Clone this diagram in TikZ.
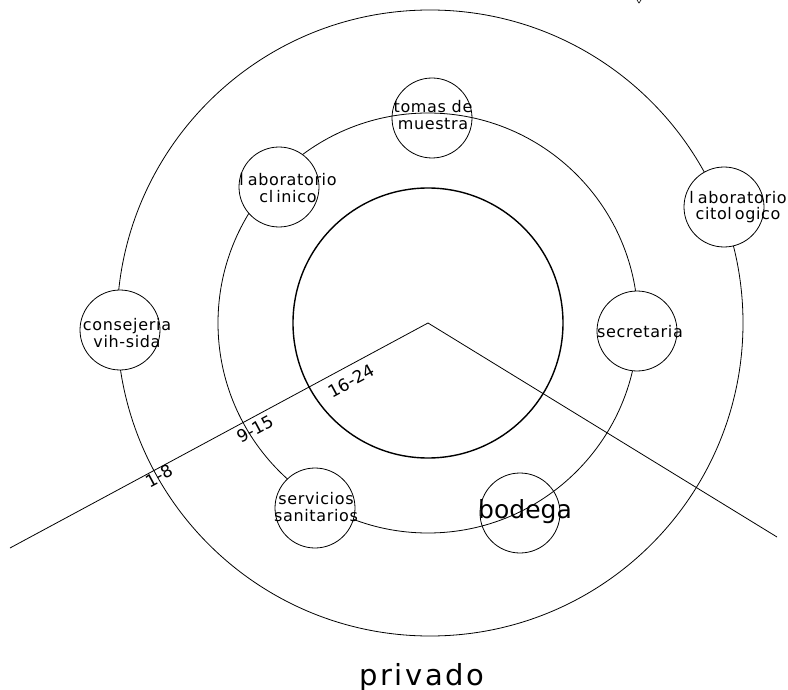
\documentclass[tikz,border=0pt]{standalone}
\usepackage{fontspec}
\newfontfamily\roomfont[LetterSpace=4]{DejaVu Sans}
\newfontfamily\widefont[LetterSpace=9]{DejaVu Sans}
\newfontfamily\plainfont{DejaVu Sans}
\begin{document}
\begin{tikzpicture}[x=1pt,y=-1pt,
  ring/.style={draw=black,line width=0.8pt},
  core/.style={draw=black,line width=1.4pt},
  spoke/.style={draw=black,line width=0.8pt},
  room/.style={circle,draw=black,line width=0.8pt,minimum size=80pt,inner sep=0pt},
  solidroom/.style={room,fill=white},
  roomlabel/.style={align=center,inner sep=0pt,font=\roomfont\fontsize{16}{16.5}\selectfont},
  band/.style={inner sep=0pt,rotate=28.3,font=\plainfont\fontsize{17}{17}\selectfont}]
\useasboundingbox (0,0) rectangle (788,690);

% centre of the rings and the two sector boundaries
\coordinate (c) at (428,323);
\coordinate (oc) at (430,323);
\coordinate (wl) at (10,548);
\coordinate (el) at (777,537);

% concentric rings
\draw[ring] (oc) circle[radius=313];
\draw[ring] (c) circle[radius=210];
\draw[core] (c) circle[radius=135];

% sector boundaries
\draw[spoke] (c) -- (wl);
\draw[spoke] (c) -- (el);

% clipped mark at the top edge
\draw[line width=0.6pt] (637,0) -- (639,3) -- (641,0);

% rooms
\node[room]      (tm)  at (432,118) {};
\node[solidroom] (lc)  at (279,187) {};
\node[solidroom] (cv)  at (120,330) {};
\node[solidroom] (lco) at (724,207) {};
\node[solidroom] (sec) at (637,331) {};
\node[solidroom] (ss)  at (315,508) {};
\node[room]      (bod) at (520,513) {};

% room names
\node[roomlabel] (tmt)  at (433,115) {tomas de\\muestra};
\node[roomlabel] (lct)  at (288,188) {l\kern4pt aboratorio\\cl\kern3pt inico};
\node[roomlabel] (cvt)  at (127,333) {consej\kern1pt eria\\vih-sida};
\node[roomlabel] (lcot) at (738,207) {l\kern4pt aboratorio\\citol\kern3pt ogico};
\node[roomlabel] (sect) at (640,332) {secretaria};
\node[roomlabel] (sst)  at (316,507) {servicios\\sanitarios};
\node[inner sep=0pt,anchor=base,font=\plainfont\fontsize{25}{25}\selectfont] (bodt) at (525,518) {bodega};

% ring bands along the western boundary
\node[band] (b1) at (159,476) {1-8};
\node[band] (b2) at (255,429) {9-15};
\node[band] (b3) at (351,381) {16-24};

% zone name
\node[inner sep=0pt,anchor=base,font=\widefont\fontsize{29}{29}\selectfont] (pv) at (422,685) {privado};
\end{tikzpicture}
\end{document}
